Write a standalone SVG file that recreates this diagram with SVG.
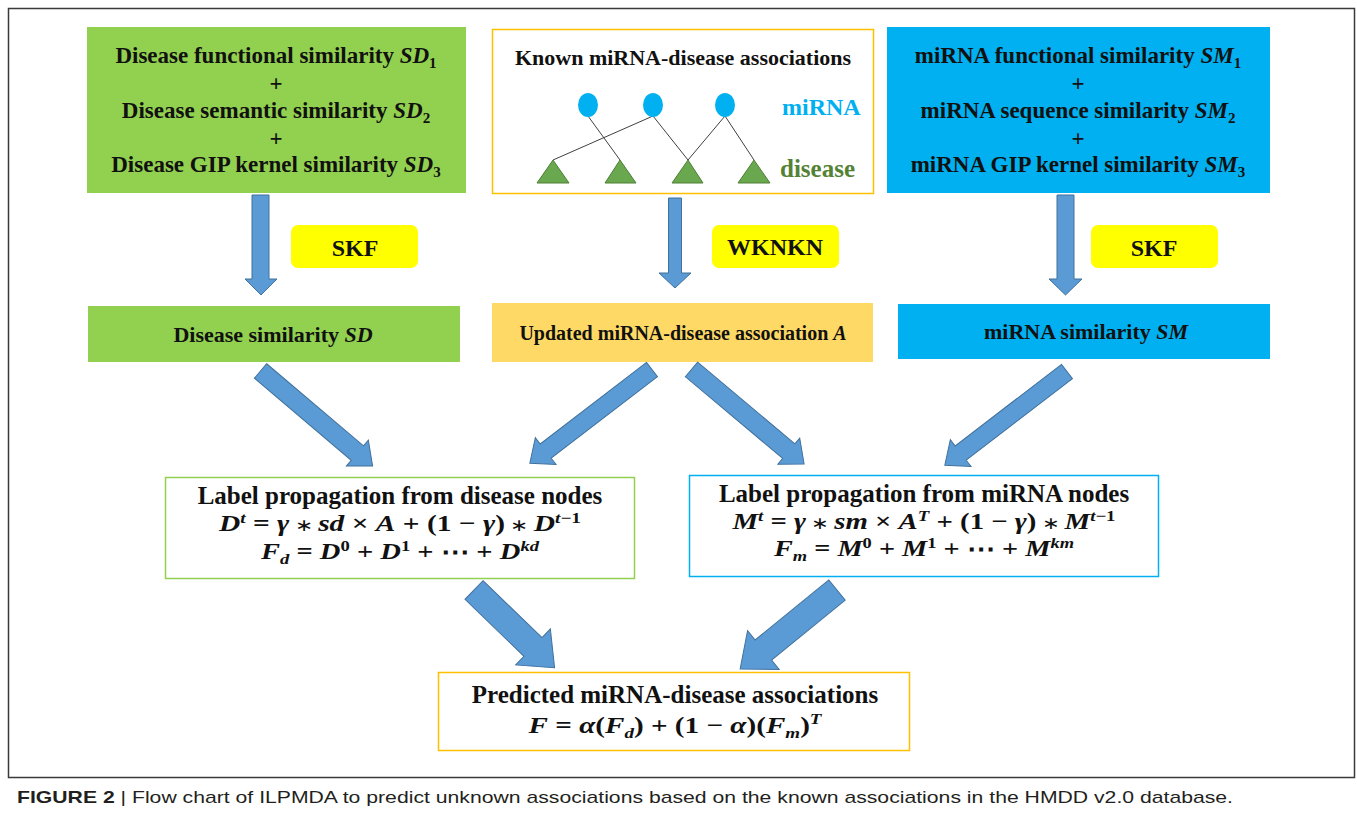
<svg xmlns="http://www.w3.org/2000/svg" width="1357" height="814" viewBox="0 0 1357 814">
<style>
.t{font-family:"Liberation Serif","Times New Roman",serif;font-weight:bold;fill:#111;text-anchor:middle}
.i{font-style:italic}
.sb{font-size:15px}
.s{font-size:15px}
.op{font-weight:normal;font-size:17px}
.arr{fill:#5B9BD5;stroke:#41719C;stroke-width:1}
.cap{font-family:"Liberation Sans Narrow","Liberation Sans",Arial,sans-serif;font-size:17px;fill:#231f20}
</style>
<rect width="1357" height="814" fill="#fff"/>
<rect x="8.5" y="8.5" width="1346" height="769" fill="none" stroke="#3a3a3a" stroke-width="1.5"/>

<g id="disease-sources">
<rect x="87" y="27" width="379" height="166" fill="#92D050"/>
<text class="t" x="276" y="63" font-size="23">Disease functional similarity <tspan class="i">SD</tspan><tspan class="sb" dy="5">1</tspan></text>
<text class="t" x="276" y="91" font-size="23">+</text>
<text class="t" x="276" y="118" font-size="23">Disease semantic similarity <tspan class="i">SD</tspan><tspan class="sb" dy="5">2</tspan></text>
<text class="t" x="276" y="146" font-size="23">+</text>
<text class="t" x="276" y="172" font-size="23">Disease GIP kernel similarity <tspan class="i">SD</tspan><tspan class="sb" dy="5">3</tspan></text>
</g>

<g id="known-associations">
<rect x="492.5" y="29.5" width="381" height="164" fill="#fff" stroke="#FFC000" stroke-width="1.5"/>
<text class="t" x="683" y="65" font-size="22">Known miRNA-disease associations</text>
<g stroke="#404040" stroke-width="1">
<line x1="588" y1="116" x2="620" y2="160"/>
<line x1="653" y1="116" x2="553" y2="160"/>
<line x1="653" y1="116" x2="688" y2="160"/>
<line x1="725" y1="116" x2="688" y2="160"/>
<line x1="725" y1="116" x2="754" y2="160"/>
</g>
<g fill="#00B0F0">
<ellipse cx="588" cy="105" rx="10" ry="12"/>
<ellipse cx="653" cy="105" rx="10" ry="12"/>
<ellipse cx="725" cy="105" rx="10" ry="12"/>
</g>
<g fill="#6AA84F" stroke="#4E7F35" stroke-width="1">
<polygon points="537,183 569,183 553,160"/>
<polygon points="605,183 636,183 620,160"/>
<polygon points="672,183 703,183 688,160"/>
<polygon points="738,183 770,183 754,160"/>
</g>
<text class="t" x="782" y="115" font-size="24" style="text-anchor:start;fill:#00B0F0">miRNA</text>
<text class="t" x="780" y="177" font-size="25" style="text-anchor:start;fill:#548235">disease</text>
</g>

<g id="mirna-sources">
<rect x="887" y="27" width="383" height="166" fill="#00B0F0"/>
<text class="t" x="1078" y="63" font-size="23">miRNA functional similarity <tspan class="i">SM</tspan><tspan class="sb" dy="5">1</tspan></text>
<text class="t" x="1078" y="91" font-size="23">+</text>
<text class="t" x="1078" y="118" font-size="23">miRNA sequence similarity <tspan class="i">SM</tspan><tspan class="sb" dy="5">2</tspan></text>
<text class="t" x="1078" y="146" font-size="23">+</text>
<text class="t" x="1078" y="172" font-size="23">miRNA GIP kernel similarity <tspan class="i">SM</tspan><tspan class="sb" dy="5">3</tspan></text>
</g>

<g id="skf-left">
<rect x="291" y="225" width="127" height="43" rx="7" fill="#FFFF00"/>
<text class="t" x="355" y="256" font-size="24">SKF</text>
</g>
<g id="wknkn">
<rect x="712" y="225" width="127" height="43" rx="7" fill="#FFFF00"/>
<text class="t" x="775" y="255" font-size="24">WKNKN</text>
</g>
<g id="skf-right">
<rect x="1091" y="225" width="127" height="43" rx="7" fill="#FFFF00"/>
<text class="t" x="1154" y="256" font-size="24">SKF</text>
</g>

<g id="disease-similarity">
<rect x="88" y="306" width="372" height="56" fill="#92D050"/>
<text class="t" x="273" y="342" font-size="22">Disease similarity <tspan class="i">SD</tspan></text>
</g>
<g id="updated-association">
<rect x="492" y="303" width="381" height="59" fill="#FFD966"/>
<text class="t" x="683" y="340" font-size="20">Updated miRNA-disease association <tspan class="i">A</tspan></text>
</g>
<g id="mirna-similarity">
<rect x="898" y="304" width="372" height="55" fill="#00B0F0"/>
<text class="t" x="1086" y="339" font-size="22">miRNA similarity <tspan class="i">SM</tspan></text>
</g>

<g id="lp-disease">
<rect x="165.5" y="477.5" width="469" height="101" fill="#fff" stroke="#92D050" stroke-width="1.5"/>
<text class="t" x="400" y="504" font-size="25">Label propagation from disease nodes</text>
<text class="t" x="400" y="531" font-size="23" textLength="362" lengthAdjust="spacingAndGlyphs"><tspan class="i">D</tspan><tspan class="s i" dy="-8">t</tspan><tspan dy="8"> = </tspan><tspan class="i">γ</tspan><tspan class="op"> ∗ </tspan><tspan class="i">sd</tspan> × <tspan class="i">A</tspan> + (1 − <tspan class="i">γ</tspan>)<tspan class="op"> ∗ </tspan><tspan class="i">D</tspan><tspan class="s" dy="-8"><tspan class="i">t</tspan>−1</tspan></text>
<text class="t" x="400" y="559" font-size="23" textLength="278" lengthAdjust="spacingAndGlyphs"><tspan class="i">F</tspan><tspan class="s i" dy="5">d</tspan><tspan dy="-5"> = </tspan><tspan class="i">D</tspan><tspan class="s" dy="-8">0</tspan><tspan dy="8"> + </tspan><tspan class="i">D</tspan><tspan class="s" dy="-8">1</tspan><tspan dy="8"> + ⋯ + </tspan><tspan class="i">D</tspan><tspan class="s i" dy="-8">kd</tspan></text>
</g>

<g id="lp-mirna">
<rect x="689.5" y="475.5" width="469" height="101" fill="#fff" stroke="#00B0F0" stroke-width="1.5"/>
<text class="t" x="924" y="502" font-size="25">Label propagation from miRNA nodes</text>
<text class="t" x="924" y="529" font-size="23" textLength="383" lengthAdjust="spacingAndGlyphs"><tspan class="i">M</tspan><tspan class="s i" dy="-8">t</tspan><tspan dy="8"> = </tspan><tspan class="i">γ</tspan><tspan class="op"> ∗ </tspan><tspan class="i">sm</tspan> × <tspan class="i">A</tspan><tspan class="s i" dy="-8">T</tspan><tspan dy="8"> + (1 − </tspan><tspan class="i">γ</tspan>)<tspan class="op"> ∗ </tspan><tspan class="i">M</tspan><tspan class="s" dy="-8"><tspan class="i">t</tspan>−1</tspan></text>
<text class="t" x="924" y="556" font-size="23" textLength="300" lengthAdjust="spacingAndGlyphs"><tspan class="i">F</tspan><tspan class="s i" dy="5">m</tspan><tspan dy="-5"> = </tspan><tspan class="i">M</tspan><tspan class="s" dy="-8">0</tspan><tspan dy="8"> + </tspan><tspan class="i">M</tspan><tspan class="s" dy="-8">1</tspan><tspan dy="8"> + ⋯ + </tspan><tspan class="i">M</tspan><tspan class="s i" dy="-8">km</tspan></text>
</g>

<g id="predicted">
<rect x="438.5" y="672.5" width="471" height="78" fill="#fff" stroke="#FFC000" stroke-width="1.5"/>
<text class="t" x="675" y="703" font-size="25">Predicted miRNA-disease associations</text>
<text class="t" x="675" y="733" font-size="23" textLength="293" lengthAdjust="spacingAndGlyphs"><tspan class="i">F</tspan> = <tspan class="i">α</tspan>(<tspan class="i">F</tspan><tspan class="s i" dy="5">d</tspan><tspan dy="-5">) + (1 − </tspan><tspan class="i">α</tspan>)(<tspan class="i">F</tspan><tspan class="s i" dy="5">m</tspan><tspan dy="-5">)</tspan><tspan class="s i" dy="-9">T</tspan></text>
</g>

<g id="connectors">
<polygon class="arr" points="252,195 269,195 269,279 277,279 261,295 245,279 252,279"/>
<polygon class="arr" points="668.5,198 681.5,198 681.5,273 691,273 675,288 659,273 668.5,273"/>
<polygon class="arr" points="1057,195 1074,195 1074,279 1082,279 1065.5,295 1049,279 1057,279"/>
<polygon class="arr" points="0,-9.5 127,-9.5 127,-17 147,0 127,17 127,9.5 0,9.5" transform="translate(260.5,371) rotate(40.3)"/>
<polygon class="arr" points="0,-9 134,-9 134,-17 154,0 134,17 134,9 0,9" transform="translate(652,369.5) rotate(142.5)"/>
<polygon class="arr" points="0,-9.5 127,-9.5 127,-17 147,0 127,17 127,9.5 0,9.5" transform="translate(691.5,369.5) rotate(40)"/>
<polygon class="arr" points="0,-9 134,-9 134,-17 154,0 134,17 134,9 0,9" transform="translate(1067,371.5) rotate(142.5)"/>
<polygon class="arr" points="0,-13 82,-13 82,-25 112,0 82,25 82,13 0,13" transform="translate(474,590) rotate(44)"/>
<polygon class="arr" points="0,-13 95,-13 95,-25 125,0 95,25 95,13 0,13" transform="translate(837,590) rotate(140.8)"/>
</g>

<text class="cap" x="17" y="803" textLength="1216" lengthAdjust="spacingAndGlyphs"><tspan font-weight="bold">FIGURE 2</tspan> | Flow chart of ILPMDA to predict unknown associations based on the known associations in the HMDD v2.0 database.</text>
</svg>
